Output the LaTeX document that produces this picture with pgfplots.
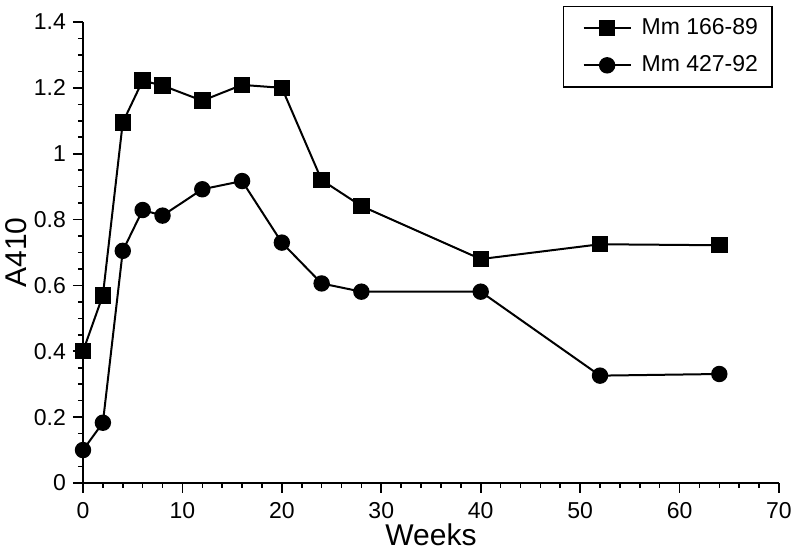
\documentclass[border=0pt]{standalone}
\usepackage{fontspec}
\setmainfont{Liberation Sans}
\usepackage{pgfplots}
\pgfplotsset{compat=1.18}

\pgfplotstableread{
x y
0 0.40
2 0.57
4 1.095
6 1.222
8 1.207
12 1.161
16 1.209
20 1.200
24 0.920
28 0.841
40 0.680
52 0.725
64 0.722
}\mmA

\pgfplotstableread{
x y
0 0.100
2 0.183
4 0.705
6 0.829
8 0.812
12 0.892
16 0.917
20 0.730
24 0.606
28 0.581
40 0.581
52 0.326
64 0.331
}\mmB

\begin{document}
\begin{tikzpicture}
\useasboundingbox (0,0) rectangle (400pt,278pt);
\begin{axis}[
    at={(41.5pt,36.5pt)}, anchor=south west,
    scale only axis,
    width=348pt, height=230.5pt,
    xmin=0, xmax=70, ymin=0, ymax=1.4,
    axis lines=left,
    axis line style={line width=1pt, -},
    xtick={0,10,...,70},
    ytick={0,0.2,...,1.4},
    minor x tick num=4,
    minor y tick num=3,
    tick align=outside,
    major tick length=5pt,
    minor tick length=2.5pt,
    every tick/.style={black, line width=0.8pt},
    /pgf/number format/assume math mode=true,
    tick label style={font=\fontsize{11.5}{13}\selectfont},
    xticklabel style={yshift=-1pt},
    xlabel={Weeks},
    ylabel={A410},
    label style={font=\fontsize{15}{17}\selectfont},
    xlabel style={at={(axis description cs:0.5,0)}, anchor=base, yshift=-31.5pt},
    ylabel style={at={(axis description cs:0,0.5)}, anchor=center, yshift=33.5pt},
    legend style={
        at={(0.991,1.0347)}, anchor=north east,
        draw=black, line width=0.75pt,
        font=\fontsize{11.5}{13}\selectfont,
        row sep=5pt, inner xsep=5pt, inner ysep=4pt,
        cells={anchor=west},
        /tikz/every odd column/.append style={column sep=3pt},
    },
    legend image code/.code={
        \path (-4.5pt,0pt);
        \draw[mark repeat=2,mark phase=2] plot coordinates {(0pt,0pt) (11.75pt,0pt) (23.5pt,0pt)};
    },
]
\addplot[black, line width=1pt, mark=square*, mark size=3.6pt, mark options={solid}] table[x=x,y=y] {\mmA};
\addlegendentry{Mm 166-89}
\addplot[black, line width=1pt, mark=*, mark size=3.6pt, mark options={solid}] table[x=x,y=y] {\mmB};
\addlegendentry{Mm 427-92}
\end{axis}
\end{tikzpicture}
\end{document}
